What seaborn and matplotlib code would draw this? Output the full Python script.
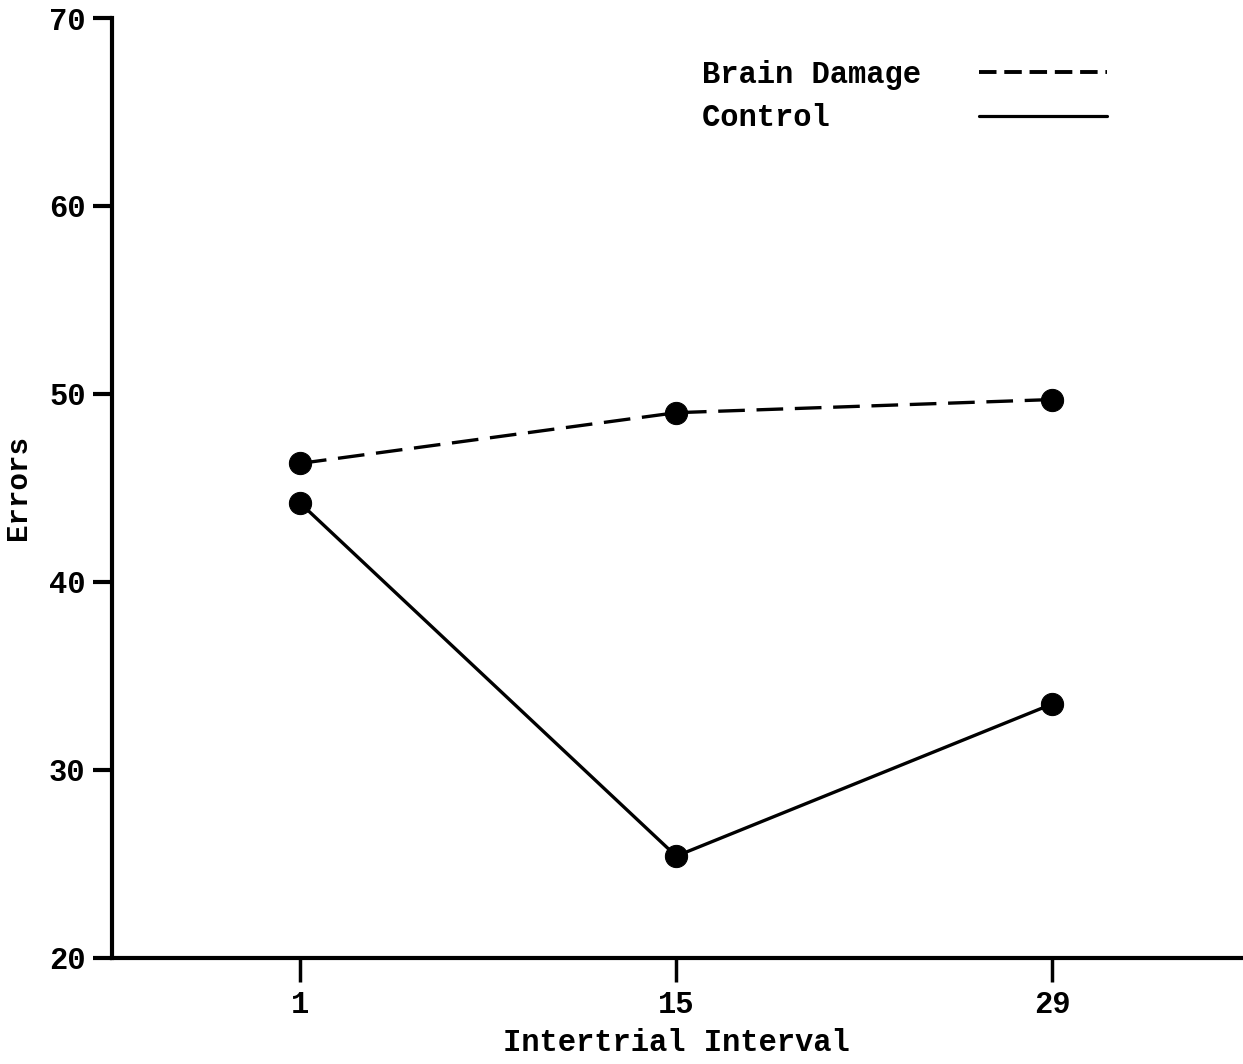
import pandas as pd
import numpy as np
import matplotlib
matplotlib.use("Agg")
import matplotlib.pyplot as plt
import seaborn as sns
from matplotlib.lines import Line2D

# data
intervals = [1, 15, 29]
brain_damage = [46.3, 49.0, 49.7]
control = [44.2, 25.4, 33.5]
groups = ["Brain Damage", "Control"]
y_ticks = [20, 30, 40, 50, 60, 70]

df = pd.DataFrame({
    "interval": intervals * 2,
    "errors": brain_damage + control,
    "group": [groups[0]] * 3 + [groups[1]] * 3,
})

sns.set_style("white")
plt.rcParams["font.family"] = ["Liberation Mono", "DejaVu Sans Mono"]
plt.rcParams["text.color"] = "black"
plt.rcParams["axes.labelcolor"] = "black"
plt.rcParams["xtick.color"] = "black"
plt.rcParams["ytick.color"] = "black"

fig = plt.figure(figsize=(12.43, 10.64), dpi=100)
ax = fig.add_axes([0.090, 0.100, 0.908, 0.883])

sns.lineplot(data=df, x="interval", y="errors", hue="group", style="group",
             palette={groups[0]: "black", groups[1]: "black"},
             dashes={groups[0]: (8, 3.5), groups[1]: ""},
             markers={groups[0]: "o", groups[1]: "o"},
             markersize=16, markeredgecolor="black", linewidth=2.4,
             legend=False, ax=ax)

ax.set_xlim(-6, 36)
ax.set_ylim(20, 70)
ax.set_xticks(intervals)
ax.set_yticks(y_ticks)
ax.tick_params(bottom=True, left=True)
ax.tick_params(axis="y", direction="out", length=14, width=3, pad=5, labelsize=22)
ax.tick_params(axis="x", direction="out", length=17, width=2.5, pad=6, labelsize=22)
for lbl in ax.get_xticklabels() + ax.get_yticklabels():
    lbl.set_fontweight("bold")

for side in ["top", "right"]:
    ax.spines[side].set_visible(False)
for side in ["left", "bottom"]:
    ax.spines[side].set_linewidth(3)
    ax.spines[side].set_color("black")

ax.set_xlabel("Intertrial Interval", fontsize=22, fontweight="bold", labelpad=6)
ax.set_ylabel("Errors", fontsize=21, fontweight="bold", labelpad=12)

# monospace font: pad labels to same width so they line up on the left
width = max(len(g) for g in groups)
labels = [g.ljust(width) for g in groups]
handles = [
    Line2D([], [], color="black", lw=2.8, dashes=(4.5, 2)),
    Line2D([], [], color="black", lw=2.3),
]
ax.legend(handles, labels, loc="upper left", bbox_to_anchor=(0.4985, 0.985),
          frameon=False, markerfirst=False,
          prop={"size": 22, "weight": "bold"},
          handlelength=4.2, handletextpad=1.9, labelspacing=0.45)

fig.savefig("out.png", dpi=100)
